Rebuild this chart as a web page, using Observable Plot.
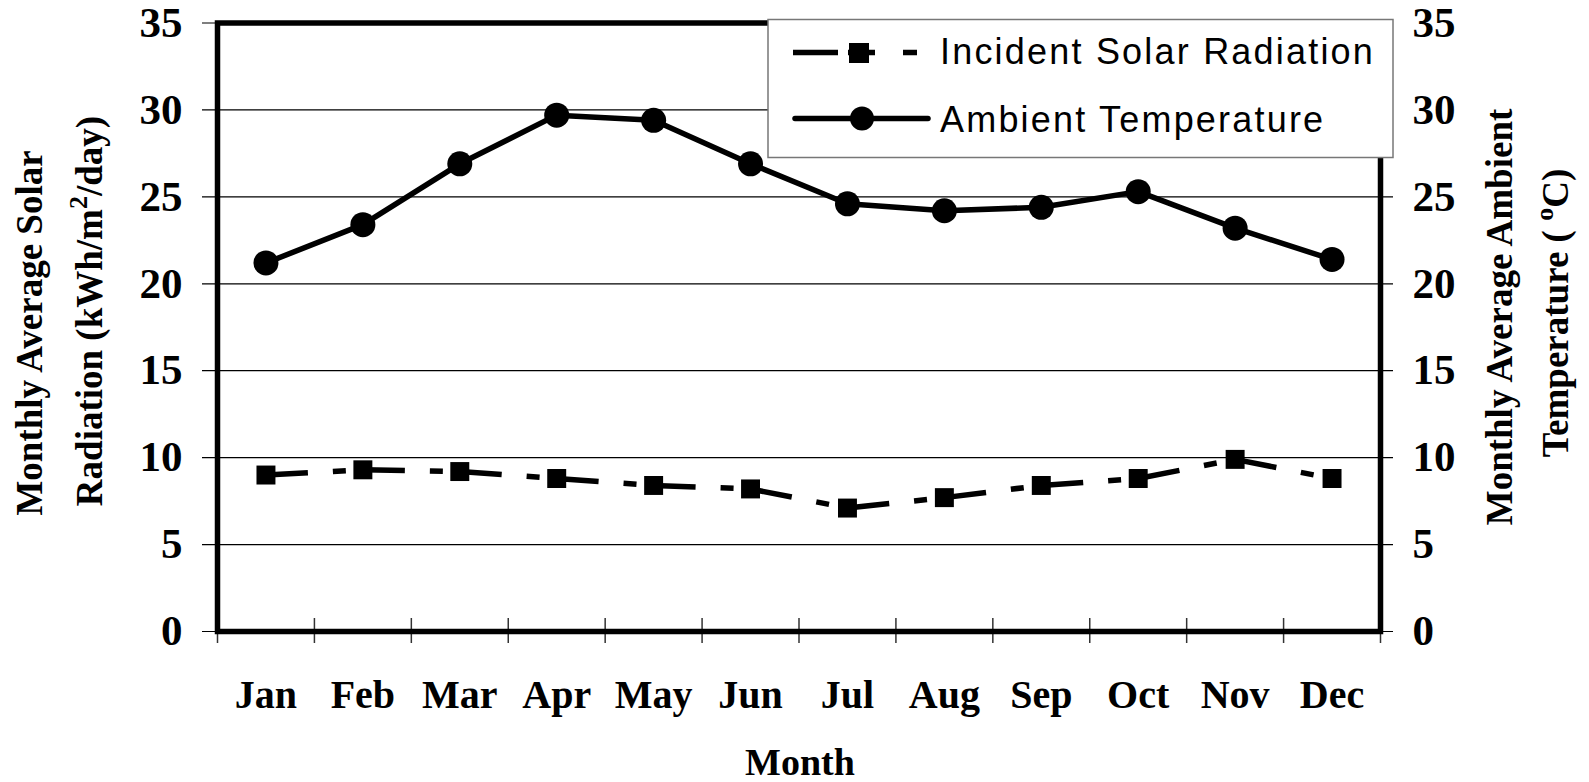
<!DOCTYPE html>
<html>
<head>
<meta charset="utf-8">
<script src="https://cdn.jsdelivr.net/npm/d3@7"></script>
<script src="https://cdn.jsdelivr.net/npm/@observablehq/plot@0.6"></script>
<style>
  html, body { margin: 0; padding: 0; background: white; }
  #wrap { position: relative; width: 1589px; height: 782px; overflow: hidden; }
  #overlay { position: absolute; left: 0; top: 0; pointer-events: none; }
</style>
</head>
<body>
<div id="wrap"></div>
<script>
// ---- data ----
const months = ["Jan", "Feb", "Mar", "Apr", "May", "Jun", "Jul", "Aug", "Sep", "Oct", "Nov", "Dec"];
const solarRadiation = [9.0, 9.3, 9.2, 8.8, 8.4, 8.2, 7.1, 7.7, 8.4, 8.8, 9.9, 8.8];
const ambientTemperature = [21.2, 23.4, 26.9, 29.7, 29.4, 26.9, 24.6, 24.2, 24.4, 25.3, 23.2, 21.4];
const yTicks = [0, 5, 10, 15, 20, 25, 30, 35];
const seriesNames = ["Incident Solar Radiation", "Ambient Temperature"];

// ---- derived tables ----
const W = 1589, H = 782;
const mTop = 22.5, mBottom = 151, mLeft = 217, mRight = 209;
const rad = months.map((m, i) => ({x: i + 0.5, month: m, y: solarRadiation[i]}));
const temp = months.map((m, i) => ({x: i + 0.5, month: m, y: ambientTemperature[i]}));
// separate path per segment so the dash pattern restarts at every point
const radSegments = d3.range(months.length - 1).flatMap(i => [
  {x: i + 0.5, y: solarRadiation[i], seg: i},
  {x: i + 1.5, y: solarRadiation[i + 1], seg: i}
]);
const boundaries = d3.range(months.length + 1);
const centers = months.map((m, i) => i + 0.5);

const plotH = H - mTop - mBottom;

const chart = Plot.plot({
  width: W,
  height: H,
  marginTop: mTop,
  marginBottom: mBottom,
  marginLeft: mLeft,
  marginRight: mRight,
  style: {background: "white", fontFamily: "'Liberation Serif', 'Times New Roman', serif", fontWeight: "bold", fontSize: "43px", overflow: "visible", color: "black"},
  x: {domain: [0, months.length]},
  y: {domain: [0, 35]},
  marks: [
    Plot.ruleY(yTicks, {y: d => d, stroke: "black", strokeWidth: 1.2, insetLeft: -15, insetRight: -13}),
    Plot.tickX(boundaries, {x: d => d, stroke: "#333", strokeWidth: 1.5, insetTop: plotH - 13, insetBottom: -12}),
    Plot.axisY(yTicks, {anchor: "left", tickSize: 0, tickPadding: 35, label: null, fontSize: 43, fontWeight: "bold"}),
    Plot.axisY(yTicks, {anchor: "right", tickSize: 0, tickPadding: 32, label: null, fontSize: 43, fontWeight: "bold"}),
    Plot.axisX(centers, {anchor: "bottom", tickSize: 0, tickPadding: 48, label: null, fontSize: 40, fontWeight: "bold", tickFormat: d => months[Math.floor(d)]}),
    Plot.frame({stroke: "black", strokeWidth: 5.5}),
    Plot.line(temp, {x: "x", y: "y", stroke: "black", strokeWidth: 5.5}),
    Plot.dot(temp, {x: "x", y: "y", r: 12.5, fill: "black", stroke: "none"}),
    Plot.line(radSegments, {x: "x", y: "y", z: "seg", stroke: "black", strokeWidth: 5.5, strokeDasharray: "42,25,13,40", strokeLinecap: "butt"}),
    Plot.dot(rad, {x: "x", y: "y", symbol: "square", r: 10.7, fill: "black", stroke: "none"})
  ]
});

const wrap = document.getElementById("wrap");
wrap.appendChild(chart);

// ---- overlay: axis titles and legend ----
const ns = "http://www.w3.org/2000/svg";
const ov = d3.select(wrap).append("svg")
  .attr("id", "overlay")
  .attr("width", W).attr("height", H)
  .attr("xmlns", ns);

const serif = "'Liberation Serif', 'Times New Roman', serif";
function vtitle(x, y, parts) {
  const t = ov.append("text")
    .attr("transform", `translate(${x},${y}) rotate(-90)`)
    .attr("text-anchor", "middle")
    .attr("font-family", serif)
    .attr("font-weight", "bold")
    .attr("font-size", 37)
    .attr("fill", "black");
  parts.forEach(p => {
    const s = t.append("tspan").text(p.t);
    if (p.sup) s.attr("dy", -15).attr("font-size", 26);
    if (p.after) s.attr("dy", 15);
  });
}
vtitle(42, 333, [{t: "Monthly Average Solar"}]);
vtitle(102, 311, [{t: "Radiation (kWh/m"}, {t: "2", sup: true}, {t: "/day)", after: true}]);
vtitle(1512, 317, [{t: "Monthly Average Ambient"}]);
vtitle(1568, 313, [{t: "Temperature ( "}, {t: "o", sup: true}, {t: "C)", after: true}]);

ov.append("text")
  .attr("x", 800).attr("y", 775)
  .attr("text-anchor", "middle")
  .attr("font-family", serif).attr("font-weight", "bold").attr("font-size", 38)
  .text("Month");

// legend
const lg = ov.append("g");
lg.append("rect").attr("x", 768).attr("y", 19.5).attr("width", 625).attr("height", 138)
  .attr("fill", "white").attr("stroke", "#777").attr("stroke-width", 1.5);
// row 1: dashed with square
lg.append("path").attr("d", "M793,52.5H838M848,52.5H875M903,52.5H917")
  .attr("stroke", "black").attr("stroke-width", 5.5).attr("fill", "none");
lg.append("rect").attr("x", 849).attr("y", 43).attr("width", 20).attr("height", 20).attr("fill", "black");
// row 2: solid with circle
lg.append("path").attr("d", "M795,118.5H928")
  .attr("stroke", "black").attr("stroke-width", 5.5).attr("stroke-linecap", "round").attr("fill", "none");
lg.append("circle").attr("cx", 862).attr("cy", 118.5).attr("r", 12).attr("fill", "black");
const sans = "'Liberation Sans', Arial, sans-serif";
[[64, seriesNames[0]], [132, seriesNames[1]]].forEach(([y, s]) => {
  lg.append("text").attr("x", 940).attr("y", y)
    .attr("font-family", sans).attr("font-size", 36).attr("letter-spacing", 2.2)
    .attr("fill", "black").text(s);
});
</script>
</body>
</html>
